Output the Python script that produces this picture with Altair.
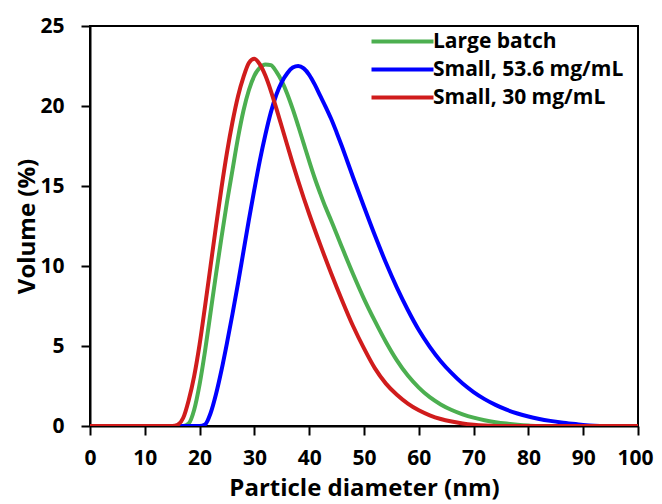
import altair as alt
import pandas as pd

series_names = ["Large batch", "Small, 53.6 mg/mL", "Small, 30 mg/mL"]
series_colors = ["#4caf50", "#0000ff", "#d01c1c"]

red_x = [0, 10, 15, 16, 17, 18, 19, 20, 21, 22, 23, 24, 25, 26, 27, 28, 29, 30, 31, 32, 33, 34, 35, 36, 37, 38, 39, 40, 42, 44, 46, 48, 50, 52, 54, 56, 58, 60, 62, 64, 66, 68, 70, 72, 74, 76, 80, 90, 100]
red_y = [0, 0, 0, 0.08, 0.5, 1.6, 3.1, 5.1, 7.5, 10.0, 12.5, 14.9, 17.1, 19.0, 20.6, 21.8, 22.7, 22.95, 22.6, 21.9, 20.95, 19.85, 18.7, 17.55, 16.4, 15.3, 14.25, 13.25, 11.35, 9.55, 7.85, 6.25, 4.85, 3.6, 2.65, 1.95, 1.4, 0.98, 0.67, 0.44, 0.28, 0.16, 0.08, 0.03, 0.005, 0, 0, 0, 0]

green_x = [0, 10, 17, 18, 19, 20, 21, 22, 23, 24, 25, 26, 27, 28, 29, 30, 31, 32, 33, 34, 35, 36, 37, 38, 39, 40, 41, 42, 43, 44, 46, 48, 50, 52, 54, 56, 58, 60, 62, 64, 66, 68, 70, 72, 74, 76, 78, 80, 82, 90, 100]
green_y = [0, 0, 0, 0.15, 1.0, 2.6, 4.7, 7.1, 9.5, 11.8, 14.0, 16.0, 18.0, 19.7, 21.0, 21.9, 22.4, 22.6, 22.55, 22.15, 21.55, 20.75, 19.8, 18.75, 17.65, 16.55, 15.5, 14.55, 13.65, 12.85, 11.15, 9.5, 7.95, 6.55, 5.25, 4.1, 3.15, 2.4, 1.8, 1.35, 1.0, 0.73, 0.52, 0.36, 0.24, 0.15, 0.08, 0.03, 0, 0, 0]

blue_x = [0, 10, 20, 21, 22, 23, 24, 25, 26, 27, 28, 29, 30, 31, 32, 33, 34, 35, 36, 37, 38, 39, 40, 41, 42, 43, 44, 45, 46, 47, 48, 50, 52, 54, 56, 58, 60, 62, 64, 66, 68, 70, 72, 74, 76, 78, 80, 82, 84, 86, 88, 90, 92, 94, 100]
blue_y = [0, 0, 0, 0.1, 0.8, 2.0, 3.5, 5.2, 7.0, 8.9, 10.9, 12.9, 14.8, 16.6, 18.2, 19.6, 20.7, 21.5, 22.05, 22.4, 22.5, 22.35, 21.95, 21.35, 20.65, 19.95, 19.2, 18.35, 17.45, 16.5, 15.55, 13.7, 11.9, 10.2, 8.65, 7.25, 6.0, 4.95, 4.05, 3.3, 2.65, 2.12, 1.68, 1.32, 1.02, 0.78, 0.59, 0.44, 0.32, 0.22, 0.14, 0.07, 0.02, 0, 0]

x_ticks = [0, 10, 20, 30, 40, 50, 60, 70, 80, 90, 100]
y_ticks = [0, 5, 10, 15, 20, 25]

frames = []
for name, xs, ys in [(series_names[0], green_x, green_y),
                     (series_names[1], blue_x, blue_y),
                     (series_names[2], red_x, red_y)]:
    frames.append(pd.DataFrame({"x": xs, "y": ys, "series": name}))
df = pd.concat(frames, ignore_index=True)

FONT = "Open Sans"

common_axis = dict(grid=False,
                   labelFontSize=21, labelFontWeight="bold", labelFont=FONT, labelColor="#000",
                   titleFontSize=24, titleFontWeight="bold", titleFont=FONT, titleColor="#000",
                   domainColor="#000", domainWidth=2, tickColor="#000", tickWidth=2, tickSize=9,
                   labelFlush=False)

chart = alt.Chart(df).mark_line(strokeWidth=4, interpolate="monotone", clip=True).encode(
    x=alt.X("x:Q",
            scale=alt.Scale(domain=[0, 100], nice=False),
            axis=alt.Axis(values=x_ticks, title="Particle diameter (nm)",
                          labelPadding=12, titlePadding=8,
                          labelAlign={"condition": {"test": "datum.value == 100", "value": "right"}, "value": "center"},
                          labelOffset={"condition": {"test": "datum.value == 100", "value": 15}, "value": 0},
                          **common_axis)),
    y=alt.Y("y:Q",
            scale=alt.Scale(domain=[0, 25], nice=False),
            axis=alt.Axis(values=y_ticks, title="Volume (%)",
                          labelPadding=17, titlePadding=0, **common_axis)),
    color=alt.Color("series:N",
                    scale=alt.Scale(domain=series_names, range=series_colors),
                    sort=series_names,
                    legend=alt.Legend(title=None, orient="none", legendX=300, legendY=3,
                                      symbolType="M-3,0H3", symbolSize=427, symbolStrokeWidth=4,
                                      labelFont=FONT, labelFontSize=21, labelFontWeight="bold",
                                      labelColor="#000", labelOffset=18, labelLimit=400,
                                      rowPadding=5, padding=0)),
    order=alt.Order("x:Q"),
).properties(
    width=548, height=400,
    autosize=alt.AutoSizeParams(type="none"),
    padding={"left": 82, "top": 18, "right": 16, "bottom": 80},
).configure_view(stroke="#000", strokeWidth=2)

chart.save("out.html", embed_options={"renderer": "svg", "actions": False})
